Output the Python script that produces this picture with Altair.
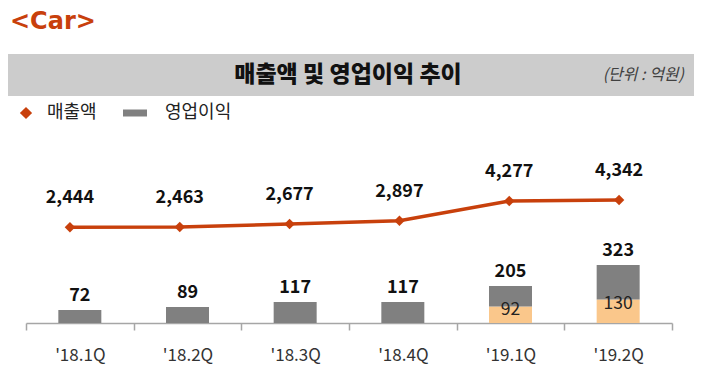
import altair as alt
import pandas as pd

quarters = ["'18.1Q", "'18.2Q", "'18.3Q", "'18.4Q", "'19.1Q", "'19.2Q"]
revenue = [2444, 2463, 2677, 2897, 4277, 4342]
op_income = [72, 89, 117, 117, 205, 323]
op_lower = [None, None, None, None, 92, 130]

FONT = "Noto Sans CJK KR"
RED = "#C8400C"
GRAY = "#808080"
ORANGE = "#FAC78B"

# bar segments built from the data lists
seg_rows = []
for q, tot, low in zip(quarters, op_income, op_lower):
    base = low if low is not None else 0
    if low is not None:
        seg_rows.append({"q": q, "y0": 0, "y1": low, "part": "lower"})
    seg_rows.append({"q": q, "y0": base, "y1": tot, "part": "upper"})
seg_df = pd.DataFrame(seg_rows)

bar_df = pd.DataFrame({"q": quarters, "total": op_income})
low_df = pd.DataFrame({"q": quarters, "low": op_lower}).dropna()
rev_df = pd.DataFrame({"q": quarters, "rev": revenue})
rev_df["label"] = rev_df["rev"].map(lambda v: f"{v:,}")

xbar = alt.X("q:N", sort=quarters, title=None,
             scale=alt.Scale(paddingInner=0, paddingOuter=0),
             axis=alt.Axis(labelAngle=0, domainColor="#A6A6A6", domainWidth=1.5,
                           tickColor="#A6A6A6", tickWidth=1.5, tickSize=7,
                           tickBand="extent", labelPadding=17, labelFont=FONT,
                           labelFontSize=17, labelColor="#333333", grid=False))
ybar_scale = alt.Scale(domain=[0, 1017])

bars = alt.Chart(seg_df).mark_bar(size=43).encode(
    x=xbar,
    y=alt.Y("y0:Q", scale=ybar_scale, axis=None),
    y2="y1:Q",
    color=alt.Color("part:N", scale=alt.Scale(domain=["lower", "upper"], range=[ORANGE, GRAY]), legend=None),
)
bar_labels = alt.Chart(bar_df).mark_text(font=FONT, fontSize=18, fontWeight="bold",
                                          color="#111111", baseline="middle", dy=-14).encode(
    x=alt.X("q:N", sort=quarters),
    y=alt.Y("total:Q", scale=ybar_scale, axis=None),
    text="total:Q",
)
low_labels = alt.Chart(low_df).mark_text(font=FONT, fontSize=17.5, color="#222222",
                                          baseline="middle", dy=4).encode(
    x=alt.X("q:N", sort=quarters),
    y=alt.Y("low:Q", scale=ybar_scale, axis=None),
    text=alt.Text("low:Q", format="d"),
)
bar_layer = alt.layer(bars, bar_labels, low_labels)

xline = alt.X("q:N", sort=quarters, axis=None,
              scale=alt.Scale(type="point", range=[-11, 648], padding=0.5))
yline_scale = alt.Scale(domain=[-4225, 8528])

line = alt.Chart(rev_df).mark_line(color=RED, strokeWidth=3.5).encode(
    x=xline, y=alt.Y("rev:Q", scale=yline_scale, axis=None))
pts = alt.Chart(rev_df).mark_point(shape="diamond", filled=True, size=110, color=RED, opacity=1).encode(
    x=xline, y=alt.Y("rev:Q", scale=yline_scale, axis=None))
line_labels = alt.Chart(rev_df).mark_text(font=FONT, fontSize=18, fontWeight="bold",
                                           color="#111111", baseline="middle", dy=-29).encode(
    x=xline, y=alt.Y("rev:Q", scale=yline_scale, axis=None), text="label:N")
line_layer = alt.layer(line, pts, line_labels)

one = pd.DataFrame({"k": [0]})
band = alt.Chart(one).mark_rect(color="#CCCCCC").encode(
    x=alt.value(-26), x2=alt.value(668), y=alt.value(-86), y2=alt.value(-44))
head = alt.Chart(one).mark_text(text="<Car>", font="DejaVu Sans", fontSize=24, fontWeight="bold",
                                color=RED, align="left", baseline="middle").encode(
    x=alt.value(-16), y=alt.value(-118))
title = alt.Chart(one).mark_text(text="매출액 및 영업이익 추이", font=FONT, fontSize=23, fontWeight=900,
                                 color="#111111", align="center", baseline="middle").encode(
    x=alt.value(322), y=alt.value(-65))
unit = alt.Chart(one).mark_text(text="(단위 : 억원)", font=FONT, fontSize=16, fontStyle="italic",
                                color="#404040", align="right", baseline="middle").encode(
    x=alt.value(658), y=alt.value(-65))
leg_d = alt.Chart(one).mark_point(shape="diamond", filled=True, size=150, color=RED, opacity=1).encode(
    x=alt.value(0), y=alt.value(-27))
leg_t1 = alt.Chart(one).mark_text(text="매출액", font=FONT, fontSize=18, color="#222222",
                                  align="left", baseline="middle").encode(x=alt.value(21), y=alt.value(-27))
leg_r = alt.Chart(one).mark_rule(color=GRAY, strokeWidth=7).encode(
    x=alt.value(97), x2=alt.value(121), y=alt.value(-27))
leg_t2 = alt.Chart(one).mark_text(text="영업이익", font=FONT, fontSize=18, color="#222222",
                                  align="left", baseline="middle").encode(x=alt.value(139), y=alt.value(-27))

chart = alt.layer(
    band, head, title, unit, leg_d, leg_t1, leg_r, leg_t2, bar_layer, line_layer
).resolve_scale(x="independent", y="independent").properties(
    width=646, height=183,
    autosize=alt.AutoSizeParams(type="none"),
    padding={"left": 18, "top": 132, "right": 30, "bottom": 50},
    background="white",
).configure_view(stroke=None, strokeWidth=0)

chart.save("out.html", embed_options={"renderer": "svg", "actions": False})
